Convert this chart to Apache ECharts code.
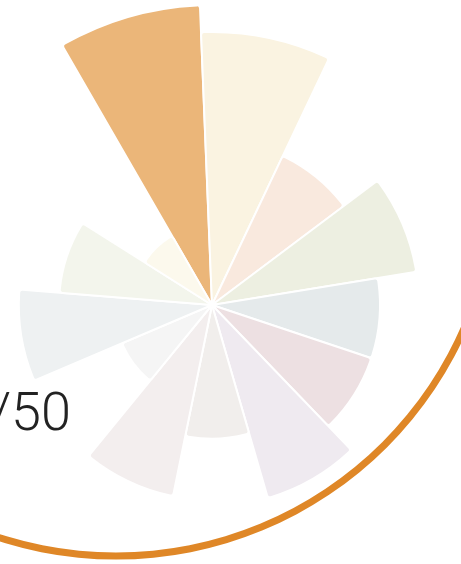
<!DOCTYPE html>
<html>
<head>
<meta charset="utf-8">
<style>
    html, body { margin: 0; padding: 0; background: #fff; }
    .rose { width: 461px; height: 564px; }
</style>
<script src="https://cdn.jsdelivr.net/npm/echarts@6/dist/echarts.min.js"></script>
</head>
<body>
<div class="rose"></div>
<script>
// 分项 (顺时针，从左上的橙色开始)
var categories = ['s1', 's2', 's3', 's4', 's5', 's6', 's7', 's8', 's9', 's10', 's11', 's12', 's13'];
var scores = [50, 45.5, 27.5, 34.5, 28, 28, 33.5, 22.3, 32.5, 16.3, 32.2, 25.5, 13.3];
var colors = ['#ebb679', '#faf3e1', '#f9e9de', '#edefe1', '#e5eaeb', '#ede0e2', '#efeaf0',
    '#f1eeec', '#f3eeee', '#f5f5f5', '#eef1f2', '#f3f5ec', '#fcf9ed'];
var maxScore = 50;
// 总分文字 + 进度环 (得分 / 剩余)
var totalLabel = '/50';
var progress = [37.5, 12.5];

(function () {
    var mycharts = echarts.init(document.querySelector('.rose'));
    var option = {
        animation: false,
        polar: {
            center: [212, 305],
            radius: [0, 300]
        },
        angleAxis: {
            type: 'category',
            data: categories,
            startAngle: 120,
            clockwise: true,
            boundaryGap: true,
            show: false
        },
        radiusAxis: {
            type: 'value',
            min: 0,
            max: maxScore,
            show: false
        },
        graphic: [{
            type: 'text',
            right: 390,
            top: 389,
            z: 100,
            style: {
                text: totalLabel,
                fontFamily: 'Roboto',
                fontWeight: 300,
                fontSize: 54,
                fill: '#222'
            }
        }],
        series: [
            {
                // 玫瑰图 (极坐标柱状)
                type: 'bar',
                coordinateSystem: 'polar',
                barCategoryGap: '0%',
                silent: true,
                itemStyle: {
                    borderColor: '#fff',
                    borderWidth: 2,
                    borderRadius: 3
                },
                data: scores.map(function (v, i) {
                    return { value: v, itemStyle: { color: colors[i] } };
                })
            },
            {
                // 外面的橙色进度环
                type: 'pie',
                center: [116, 176],
                radius: [376.5, 383.5],
                startAngle: 0,
                clockwise: true,
                silent: true,
                label: { show: false },
                labelLine: { show: false },
                data: [
                    { value: progress[0], itemStyle: { color: '#df8727' } },
                    { value: progress[1], itemStyle: { color: 'transparent' } }
                ]
            }
        ]
    };
    mycharts.setOption(option);
    window.addEventListener('resize', function () {
        mycharts.resize();
    })
})();
</script>
</body>
</html>
